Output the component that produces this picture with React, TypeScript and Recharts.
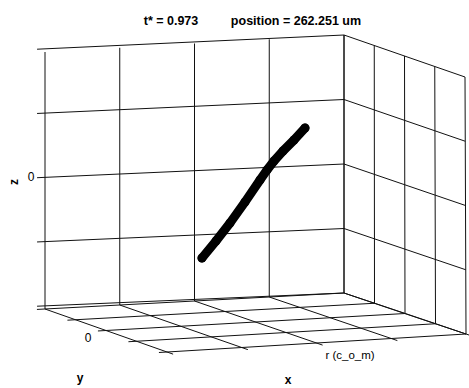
import { ComposedChart, XAxis, YAxis, Scatter, ReferenceLine } from 'recharts'

document.body.style.margin = '0'

const W = 469
const H = 388

// titles and labels
const TITLE_T = 't* = 0.973'
const TITLE_POS = 'position = 262.251 um'
const Z_LABEL = 'z'
const Y_LABEL = 'y'
const X_LABEL = 'x'
const Z_TICK = '0'
const Y_TICK = '0'
const X_TICK = 'r (c_o_m)'

// grid divisions on every axis (fractions of the box)
const GRID_STEPS = [0, 0.25, 0.5, 0.75, 1]

// projected box corners, order (u,v,w): 000,100,010,110,001,101,011,111
const BOX_X = [45, 344, 167, 466, 45, 344, 167, 465]
const BOX_Y = [309, 293, 352, 334, 52, 35, 95, 77]

// trajectory, in projected plane units
const CURVE_X = [202, 216, 230, 245, 260, 267, 274, 283, 294, 305]
const CURVE_Y = [258, 241, 223, 202, 180, 170, 161, 151, 140, 128]

const curve = CURVE_X.map((x, i) => ({ x, y: CURVE_Y[i] }))

function project(u: number, v: number, w: number) {
  const wts = [
    (1 - u) * (1 - v) * (1 - w), u * (1 - v) * (1 - w),
    (1 - u) * v * (1 - w), u * v * (1 - w),
    (1 - u) * (1 - v) * w, u * (1 - v) * w,
    (1 - u) * v * w, u * v * w,
  ]
  let x = 0
  let y = 0
  wts.forEach((k, i) => {
    x += k * BOX_X[i]
    y += k * BOX_Y[i]
  })
  return { x, y }
}

type Seg = [number, number, number, number, number, number]

const segs: Seg[] = []
GRID_STEPS.forEach((t) => {
  // back wall
  segs.push([t, 0, 0, t, 0, 1])
  segs.push([0, -0.065, t, 1, 0, t])
  // right wall
  segs.push([1, t, 0, 1, t, 1])
  segs.push([1, 0, t, 1, 1, t])
  // floor
  segs.push([-0.027, t, 0, 1, t, 0])
  segs.push([t, 0, 0, t, 1.05, 0])
})

const LINE = '#111'

function Label({ x, y, text, size = 12, bold = false, rotate = 0 }: any) {
  return (
    <div
      style={{
        position: 'absolute',
        left: x,
        top: y,
        transform: `translate(-50%, -50%) rotate(${rotate}deg)`,
        fontSize: size,
        fontWeight: bold ? 'bold' : 'normal',
        whiteSpace: 'nowrap',
        lineHeight: 1,
        color: '#000',
      }}
    >
      {text}
    </div>
  )
}

const Dot = (p: any) => <circle cx={p.cx} cy={p.cy} r={4.5} fill="#000" />

export default function App() {
  return (
    <div style={{ position: 'relative', width: W, height: H, background: '#fff', fontFamily: '"Liberation Sans", Arial, sans-serif', overflow: 'hidden' }}>
      <ComposedChart width={W} height={H} margin={{ top: 0, right: 0, bottom: 0, left: 0 }}>
        <XAxis type="number" dataKey="x" domain={[0, W]} hide allowDataOverflow />
        <YAxis type="number" dataKey="y" domain={[0, H]} reversed hide allowDataOverflow />
        {segs.map((s, i) => {
          const a = project(s[0], s[1], s[2])
          const b = project(s[3], s[4], s[5])
          return (
            <ReferenceLine
              key={i}
              segment={[a, b]}
              stroke={LINE}
              strokeWidth={1}
              ifOverflow="visible"
            />
          )
        })}
        <Scatter
          data={curve}
          dataKey="y"
          line={{ stroke: '#000', strokeWidth: 9, strokeLinejoin: 'round', strokeLinecap: 'round' }}
          lineType="joint"
          shape={Dot}
          isAnimationActive={false}
        />
      </ComposedChart>
      <Label x={171} y={21} text={TITLE_T} size={12.5} bold />
      <Label x={296} y={21} text={TITLE_POS} size={12.5} bold />
      <Label x={14} y={182} text={Z_LABEL} size={12} bold rotate={-90} />
      <Label x={31} y={177} text={Z_TICK} size={12} />
      <Label x={88} y={338} text={Y_TICK} size={12} />
      <Label x={350} y={356} text={X_TICK} size={11.5} />
      <Label x={80} y={378} text={Y_LABEL} size={12} bold />
      <Label x={288} y={380} text={X_LABEL} size={12} bold />
    </div>
  )
}
